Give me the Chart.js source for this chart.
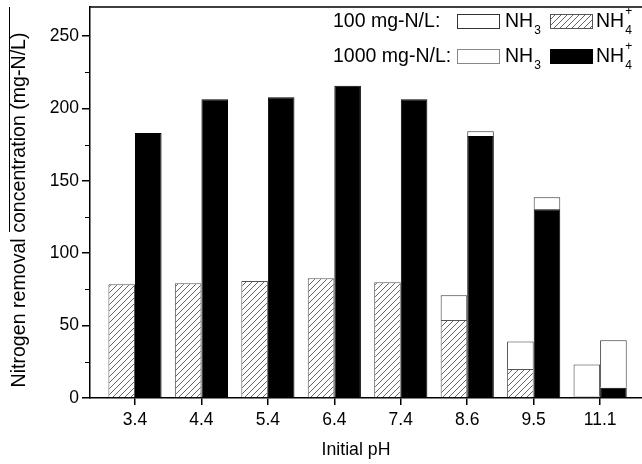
<!DOCTYPE html>
<html>
<head>
<meta charset="utf-8">
<script src="https://cdn.jsdelivr.net/npm/chart.js@4.4.1/dist/chart.umd.min.js"></script>
<style>
  html, body { margin: 0; padding: 0; background: #fff; overflow: hidden; }
  #wrap { width: 642px; height: 464px; position: relative; }
</style>
</head>
<body>
<div id="wrap"><canvas id="c" width="642" height="464"></canvas></div>
<script>
// ---- data ----
const phLabels   = ['3.4', '4.4', '5.4', '6.4', '7.4', '8.6', '9.5', '11.1'];
const nh4_100    = [78.5, 79.2, 80.8, 82.7, 79.9, 53.9, 20.0, 1.0];
const nh3_100    = [0, 0, 0, 0, 0, 17.0, 19.1, 22.2];
const nh4_1000   = [183.0, 206.3, 207.7, 215.7, 206.3, 181.0, 130.3, 7.1];
const nh3_1000   = [0, 0, 0, 0, 0, 3.2, 8.3, 32.7];
const yTickVals  = [0, 50, 100, 150, 200, 250];
const yMinorVals = [25, 75, 125, 175, 225];
const xTitle = 'Initial pH';
const yTitle = 'Nitrogen removal concentration (mg-N/L)';

const FONT = '"Liberation Sans", Arial, sans-serif';

// hatch pattern
function makeHatch() {
  const s = 6;
  const p = document.createElement('canvas');
  p.width = s; p.height = s;
  const g = p.getContext('2d');
  g.fillStyle = '#fff';
  g.fillRect(0, 0, s, s);
  g.strokeStyle = '#555';
  g.lineWidth = 0.9;
  g.beginPath();
  g.moveTo(0, s); g.lineTo(s, 0);
  g.moveTo(-s/2, s/2); g.lineTo(s/2, -s/2);
  g.moveTo(s/2, s*1.5); g.lineTo(s*1.5, s/2);
  g.stroke();
  return g.createPattern(p, 'repeat');
}
const hatch = makeHatch();

const toXY = arr => arr.map((v, i) => ({ x: i, y: v }));
const bw = c => (c.raw && c.raw.y > 0 ? 1 : 0);

const decorPlugin = {
  id: 'decor',
  afterDraw(chart) {
    const ctx = chart.ctx;
    const a = chart.chartArea;
    const ys = chart.scales.y;
    ctx.save();
    // top frame line
    ctx.strokeStyle = '#000';
    ctx.lineWidth = 1.5;
    ctx.beginPath();
    ctx.moveTo(a.left, a.top);
    ctx.lineTo(a.right, a.top);
    ctx.stroke();
    // minor y ticks
    ctx.lineWidth = 1;
    yMinorVals.forEach(v => {
      const py = Math.round(ys.getPixelForValue(v)) + 0.5;
      ctx.beginPath();
      ctx.moveTo(a.left - 5, py);
      ctx.lineTo(a.left, py);
      ctx.stroke();
    });
    // stray line left of y title (from source figure)
    ctx.lineWidth = 1;
    ctx.beginPath();
    ctx.moveTo(9.5, a.top);
    ctx.lineTo(9.5, 232);
    ctx.stroke();

    ctx.fillStyle = '#000';
    // x-axis title
    ctx.font = '17.7px ' + FONT;
    ctx.textAlign = 'center';
    ctx.textBaseline = 'middle';
    ctx.fillText(xTitle, 356, 450);
    // y-axis title
    ctx.save();
    ctx.translate(20, 210);
    ctx.rotate(-Math.PI / 2);
    ctx.font = '19.6px ' + FONT;
    ctx.fillText(yTitle, 0, 0);
    ctx.restore();

    // legend
    const ds = chart.data.datasets;
    const drawNH = (x, y, sub, sup) => {
      ctx.textAlign = 'left';
      ctx.textBaseline = 'middle';
      ctx.font = '19.5px ' + FONT;
      ctx.fillText('NH', x, y);
      const w = ctx.measureText('NH').width;
      ctx.font = '12px ' + FONT;
      ctx.fillText(sub, x + w + 1, y + 9);
      if (sup) ctx.fillText(sup, x + w + 1, y - 10);
    };
    const box = (x, y, fill, stroke) => {
      ctx.fillStyle = fill;
      ctx.fillRect(x, y, 43, 15);
      ctx.strokeStyle = stroke;
      ctx.lineWidth = 1;
      ctx.strokeRect(x + 0.5, y + 0.5, 42, 14);
      ctx.fillStyle = '#000';
    };
    const rows = [
      { label: '100 mg-N/L:', y: 22, a: ds[1], b: ds[0], aStroke: '#333' },
      { label: '1000 mg-N/L:', y: 57, a: ds[3], b: ds[2], aStroke: '#888' }
    ];
    rows.forEach(r => {
      ctx.fillStyle = '#000';
      ctx.font = '19.5px ' + FONT;
      ctx.textAlign = 'left';
      ctx.textBaseline = 'middle';
      ctx.fillText(r.label, 333, r.y);
      box(457, r.y - 8, r.a.backgroundColor, r.aStroke);
      drawNH(505, r.y, '3');
      box(550, r.y - 8, r.b.backgroundColor, r.b.borderColor);
      drawNH(596, r.y, '4', '+');
    });
    ctx.restore();
  }
};

new Chart(document.getElementById('c'), {
  type: 'bar',
  data: {
    datasets: [
      { label: '100 mg-N/L NH4+', data: toXY(nh4_100), stack: 's100',
        backgroundColor: hatch, borderColor: '#555', borderWidth: bw },
      { label: '100 mg-N/L NH3', data: toXY(nh3_100), stack: 's100',
        backgroundColor: '#fff', borderColor: '#333', borderWidth: bw },
      { label: '1000 mg-N/L NH4+', data: toXY(nh4_1000), stack: 's1000',
        backgroundColor: '#000', borderColor: '#000', borderWidth: bw },
      { label: '1000 mg-N/L NH3', data: toXY(nh3_1000), stack: 's1000',
        backgroundColor: '#fff', borderColor: '#333', borderWidth: bw }
    ]
  },
  options: {
    responsive: false,
    animation: false,
    devicePixelRatio: 1,
    layout: { padding: { top: 7, right: 0, left: 0, bottom: 0 } },
    plugins: { legend: { display: false }, tooltip: { enabled: false } },
    datasets: { bar: { categoryPercentage: 0.8, barPercentage: 1.0 } },
    scales: {
      x: {
        type: 'linear',
        stacked: true,
        offset: false,
        min: -0.677,
        max: 7.63,
        afterBuildTicks: s => { s.ticks = phLabels.map((_, i) => ({ value: i })); },
        afterFit: s => { s.height = 66; s.paddingLeft = 0; s.paddingRight = 0; },
        ticks: {
          autoSkip: false,
          maxRotation: 0,
          padding: 5,
          color: '#000',
          font: { family: FONT, size: 17.5 },
          callback: v => phLabels[v]
        },
        grid: { offset: false, drawOnChartArea: false, drawTicks: true, tickLength: 7, color: '#000', lineWidth: 1.5 },
        border: { display: true, color: '#000', width: 1.5 }
      },
      y: {
        type: 'linear',
        stacked: true,
        min: 0,
        max: 270,
        afterBuildTicks: s => { s.ticks = yTickVals.map(v => ({ value: v })); },
        afterFit: s => { s.width = 90; s.paddingTop = 0; s.paddingBottom = 0; },
        ticks: {
          padding: 3,
          color: '#000',
          font: { family: FONT, size: 17.5 },
          callback: v => String(v)
        },
        grid: { drawOnChartArea: false, drawTicks: true, tickLength: 8, color: '#000', lineWidth: 1.5 },
        border: { display: true, color: '#000', width: 1.5 }
      }
    }
  },
  plugins: [decorPlugin]
});
</script>
</body>
</html>
